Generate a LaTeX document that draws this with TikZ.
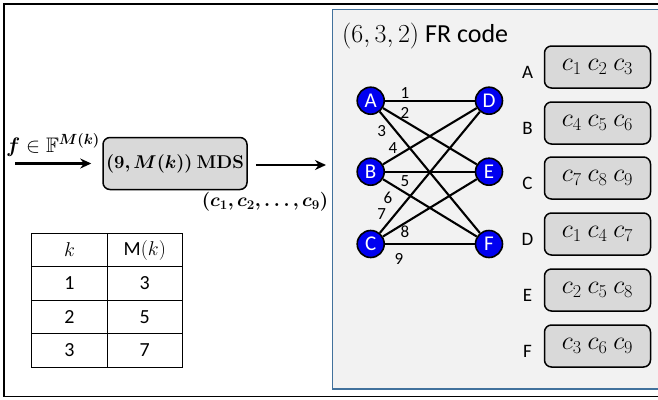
\documentclass[tikz,border=0pt]{standalone}
\usepackage{fix-cm}
\usepackage{amssymb}
\usepackage{bm}
\usepackage[no-math]{fontspec}
\setmainfont{Carlito}
\usetikzlibrary{arrows.meta}
\definecolor{panelfill}{HTML}{F2F2F2}
\definecolor{panelline}{HTML}{41719C}
\definecolor{boxfill}{HTML}{D9D9D9}
\definecolor{vertexblue}{HTML}{0000F0}
\newcommand\fsz[1]{\fontsize{#1}{#1}\selectfont}
\tikzset{
  vertex/.style={circle, draw=black, line width=1.6pt, fill=vertexblue, text=white,
    minimum size=27pt, inner sep=0pt, font=\fsz{21}},
  edge/.style={line width=2.1pt},
  elabel/.style={inner sep=0pt, font=\fsz{17}},
  packet/.style={draw, rounded corners=7pt, fill=boxfill, line width=1.5pt,
    minimum width=106pt, minimum height=42pt, font=\fsz{26}},
  flow/.style={line width=2.2pt, -{Stealth[length=11pt,width=10pt]}},
  cell/.style={inner sep=0pt, font=\fsz{20}},
}

\begin{document}
\begin{tikzpicture}[x=1pt,y=-1pt]
\useasboundingbox (0,0) rectangle (658,399);
\clip (0,0) rectangle (658,399);

\draw[line width=1.6pt] (4,4) rectangle (664,396.5);
\draw[panelline, fill=panelfill, line width=1.4pt] (332.5,9.5) rectangle (664,389);

\node[draw, rounded corners=7pt, fill=boxfill, line width=1.5pt, minimum width=144pt,
  minimum height=52pt, inner sep=0pt, font=\fsz{18.5}] (mds) at (175,163.5)
  {$\bm{(9, M(k))}$ $\mathbf{MDS}$};
\coordinate (in) at (15,163.5);
\coordinate (out) at (326,165);
\draw[flow] (in) -- ([xshift=-11pt]mds.west);
\draw[flow] ([xshift=8pt,yshift=-1.5pt]mds.east) -- (out);
\node[font=\fsz{21}, inner sep=0pt] (fin) at (53,145) {$\bm{f}\in\mathbb{F}^{\bm{M(k)}}$};
\node[font=\fsz{19}, inner sep=0pt] (cw) at (265,202) {$\bm{(c_1, c_2, \dots, c_9)}$};

\draw[line width=1pt] (31.7,233.3) rectangle (182.3,367.7);
\draw[line width=1pt] (107.3,233.3) -- (107.3,367.7);
\foreach \y in {266.7,300,333.3}
  \draw[line width=1pt] (31.7,\y) -- (182.3,\y);
\node[cell] (k0) at (69.5,250) {$k$};
\node[cell] (m0) at (144.8,250) {M$(k)$};
\foreach \k/\m/\y in {1/3/283.3,2/5/316.7,3/7/350.5} {
  \node[cell] (k\k) at (69.5,\y) {\k};
  \node[cell] (m\k) at (144.8,\y) {\m};
}

\node[anchor=west, inner sep=0pt, font=\fsz{26}] (title) at (342,36) {$(6,3,2)$ FR code};

\node[vertex] (A) at (370.7,100.7) {A};
\node[vertex] (B) at (370.7,171.7) {B};
\node[vertex] (C) at (370.7,244) {C};
\node[vertex] (D) at (489,100.7) {D};
\node[vertex] (E) at (489,171.7) {E};
\node[vertex] (F) at (489,244) {F};
\foreach \s/\t in {A/D,A/E,A/F,B/D,B/E,B/F,C/D,C/E,C/F}
  \draw[edge] (\s) -- (\t);
\foreach \n/\x/\y in {1/405/92.7,2/405/113,3/381.7/131,4/393/148,5/405/181,
  6/388/197.7,7/381.7/214,8/405/231.7,9/399/259}
  \node[elabel] (l\n) at (\x,\y) {\n};

\foreach \v/\a/\b/\c/\y in {A/1/2/3/67,B/4/5/6/123,C/7/8/9/178,
  D/1/4/7/234,E/2/5/8/290,F/3/6/9/346} {
  \node[font=\fsz{19}, inner sep=0pt] (n\v) at (527.5,\y+5) {\v};
  \node[packet] (p\v) at (597.5,\y) {$c_\a\ c_\b\ c_\c$};
}
\end{tikzpicture}
\end{document}
